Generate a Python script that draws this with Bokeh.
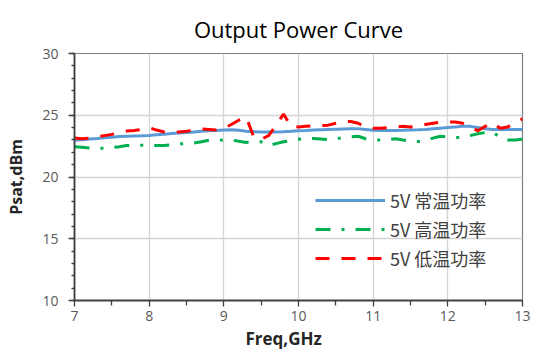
from bokeh.plotting import figure
from bokeh.models import Legend, LegendItem, Title, FixedTicker
from bokeh.embed import file_html
from bokeh.resources import INLINE

freq = [round(7.0 + 0.1 * i, 1) for i in range(61)]

normal = [23.00, 23.02, 23.08, 23.12, 23.18, 23.22, 23.27, 23.30, 23.32, 23.34,
          23.37, 23.42, 23.47, 23.52, 23.56, 23.60, 23.65, 23.70, 23.74, 23.77,
          23.80, 23.82, 23.78, 23.70, 23.66, 23.65, 23.65, 23.65, 23.66, 23.70,
          23.75, 23.77, 23.80, 23.82, 23.84, 23.86, 23.88, 23.90, 23.90, 23.85,
          23.78, 23.77, 23.77, 23.77, 23.78, 23.80, 23.82, 23.85, 23.90, 23.95,
          24.00, 24.05, 24.10, 24.10, 24.00, 23.90, 23.85, 23.85, 23.85, 23.85,
          23.85]

high = [22.45, 22.40, 22.35, 22.32, 22.33, 22.38, 22.45, 22.55, 22.58, 22.57,
        22.55, 22.55, 22.55, 22.60, 22.68, 22.72, 22.75, 22.85, 22.98, 23.00,
        22.98, 23.00, 22.90, 22.80, 22.88, 22.85, 22.55, 22.70, 22.85, 22.95,
        23.05, 23.15, 23.12, 23.08, 23.03, 23.10, 23.20, 23.25, 23.30, 23.10,
        23.00, 23.00, 23.03, 23.10, 23.00, 22.90, 22.88, 22.95, 23.15, 23.30,
        23.25, 23.20, 23.20, 23.35, 23.50, 23.60, 23.65, 23.20, 23.00, 23.00,
        23.05]

low = [23.15, 23.10, 23.15, 23.25, 23.35, 23.45, 23.60, 23.72, 23.77, 23.85,
       24.00, 23.80, 23.65, 23.60, 23.65, 23.70, 23.80, 23.90, 23.85, 23.80,
       23.95, 24.25, 24.60, 24.85, 23.25, 23.05, 23.35, 24.20, 25.10, 24.10,
       24.05, 24.10, 24.15, 24.17, 24.20, 24.35, 24.50, 24.50, 24.35, 24.05,
       23.95, 23.95, 24.00, 24.05, 24.10, 24.05, 24.10, 24.25, 24.35, 24.45,
       24.45, 24.45, 24.35, 24.05, 23.75, 24.10, 24.40, 23.95, 24.05, 24.40,
       24.70]

labels = ["5V 常温功率", "5V 高温功率", "5V 低温功率"]
x_ticks = [7, 8, 9, 10, 11, 12, 13]
y_ticks = [10, 15, 20, 25, 30]

p = figure(width=539, height=356, x_range=(7, 13), y_range=(10, 30),
           output_backend="svg", toolbar_location=None,
           min_border_left=74, min_border_right=17, min_border_top=53, min_border_bottom=56)

p.title.text = "Output Power Curve"
p.title.align = "center"
p.title.offset = 3
p.title.text_font = "Open Sans"
p.title.text_font_size = "22px"
p.title.text_font_style = "normal"
p.title.text_color = "#000000"
p.title.standoff = 20

p.outline_line_color = "#808080"
p.outline_line_width = 1.2
p.background_fill_color = "white"
p.border_fill_color = "white"

for g in (p.xgrid, p.ygrid):
    g.grid_line_color = "#d4d4d4"
    g.grid_line_width = 1.3

for ax in (p.xaxis, p.yaxis):
    ax.axis_line_color = "#404040"
    ax.axis_line_width = 1.8
    ax.major_tick_line_color = "#404040"
    ax.minor_tick_line_color = "#404040"
    ax.major_tick_line_width = 1.3
    ax.minor_tick_line_width = 1.3
    ax.major_tick_in = 0
    ax.minor_tick_in = 0
    ax.major_tick_out = 6
    ax.major_label_text_font = "Open Sans"
    ax.major_label_text_font_size = "14px"
    ax.major_label_text_color = "#595959"

p.xaxis.ticker = FixedTicker(ticks=x_ticks, minor_ticks=[7.5 + i for i in range(6)])
p.yaxis.ticker = FixedTicker(ticks=y_ticks, minor_ticks=list(range(10, 31)))
p.xaxis.minor_tick_out = 5
p.yaxis.minor_tick_out = 3
p.xaxis.major_label_standoff = 4
p.yaxis.major_label_standoff = 10

p.yaxis.axis_label = "Psat,dBm"
p.yaxis.axis_label_text_font = "Open Sans"
p.yaxis.axis_label_text_font_size = "16px"
p.yaxis.axis_label_text_font_style = "bold"
p.yaxis.axis_label_text_color = "#262626"
p.yaxis.axis_label_standoff = 12

xt = Title(text="Freq,GHz", align="left", offset=171, text_font="Open Sans",
           text_font_size="17px", text_font_style="bold", text_color="#262626", standoff=3)
p.add_layout(xt, "below")

r1 = p.line(freq, normal, line_color="#5B9BD5", line_width=3)
r2 = p.line(freq, high, line_color="#00B050", line_width=3, line_dash="15 11 3 11")
r3 = p.line(freq, low, line_color="#FF0000", line_width=3, line_dash="14 12")

legend = Legend(items=[LegendItem(label=labels[0], renderers=[r1]),
                       LegendItem(label=labels[1], renderers=[r2]),
                       LegendItem(label=labels[2], renderers=[r3])],
                location=(241, 29), padding=0, margin=0, spacing=3,
                glyph_width=70, glyph_height=20, label_height=20, label_standoff=5,
                label_text_font="Noto Sans CJK SC", label_text_font_size="18px",
                label_text_color="#404040", border_line_alpha=0, background_fill_alpha=0)
p.add_layout(legend, "center")

open("out.html", "w").write(file_html(p, INLINE))
